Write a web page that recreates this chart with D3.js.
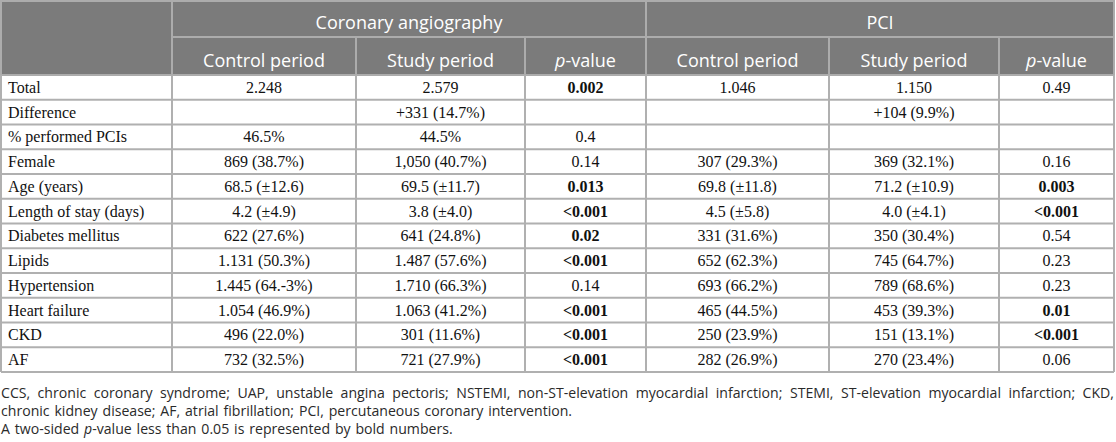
<!DOCTYPE html>
<html>
<head>
<meta charset="utf-8">
<script src="https://cdn.jsdelivr.net/npm/d3@7/dist/d3.min.js"></script>
<style>
  html, body { margin: 0; padding: 0; background: #fff; }
  #wrap { position: relative; width: 1116px; height: 442px; overflow: hidden; }
  svg { position: absolute; left: 0; top: 0; }
  #foot { position: absolute; left: 1px; top: 383.5px; width: 1113px;
          font-family: "Open Sans", "Noto Sans", sans-serif; font-size: 14.1px;
          word-spacing: 1.2px;
          line-height: 18px; color: #2a2a2a; text-align: justify; }
  #foot p { margin: 0; }
</style>
</head>
<body>
<div id="wrap">
  <svg id="chart" width="1116" height="380"></svg>
  <div id="foot"></div>
</div>
<script>
// ---- data ----
const groups = ["Coronary angiography", "PCI"];
const subHeaders = ["Control period", "Study period", "p-value"];
const categories = ["Total", "Difference", "% performed PCIs", "Female", "Age (years)",
  "Length of stay (days)", "Diabetes mellitus", "Lipids", "Hypertension",
  "Heart failure", "CKD", "AF"];
const caControl = ["2.248", "", "46.5%", "869 (38.7%)", "68.5 (±12.6)", "4.2 (±4.9)",
  "622 (27.6%)", "1.131 (50.3%)", "1.445 (64.-3%)", "1.054 (46.9%)", "496 (22.0%)", "732 (32.5%)"];
const caStudy = ["2.579", "+331 (14.7%)", "44.5%", "1,050 (40.7%)", "69.5 (±11.7)", "3.8 (±4.0)",
  "641 (24.8%)", "1.487 (57.6%)", "1.710 (66.3%)", "1.063 (41.2%)", "301 (11.6%)", "721 (27.9%)"];
const caP = ["0.002", "", "0.4", "0.14", "0.013", "<0.001", "0.02", "<0.001", "0.14",
  "<0.001", "<0.001", "<0.001"];
const pciControl = ["1.046", "", "", "307 (29.3%)", "69.8 (±11.8)", "4.5 (±5.8)",
  "331 (31.6%)", "652 (62.3%)", "693 (66.2%)", "465 (44.5%)", "250 (23.9%)", "282 (26.9%)"];
const pciStudy = ["1.150", "+104 (9.9%)", "", "369 (32.1%)", "71.2 (±10.9)", "4.0 (±4.1)",
  "350 (30.4%)", "745 (64.7%)", "789 (68.6%)", "453 (39.3%)", "151 (13.1%)", "270 (23.4%)"];
const pciP = ["0.49", "", "", "0.16", "0.003", "<0.001", "0.54", "0.23", "0.23",
  "0.01", "<0.001", "0.06"];
const alpha = 0.05;
const footnotes = [
  "CCS, chronic coronary syndrome; UAP, unstable angina pectoris; NSTEMI, non-ST-elevation myocardial infarction; STEMI, ST-elevation myocardial infarction; CKD, chronic kidney disease; AF, atrial fibrillation; PCI, percutaneous coronary intervention.",
  "A two-sided <i>p</i>-value less than 0.05 is represented by bold numbers."
];

// ---- layout ----
const colWidths = [171, 184, 169, 121, 183, 170, 115];
const left = 1;
const edges = [left, ...d3.cumsum(colWidths).map(v => v + left)];
const right = edges[edges.length - 1];
const h1 = 37, h2 = 75, tableBottom = 372;
const headerBg = "#7b7b7b", headerLine = "#acacac", gridLine = "#b0b0b0";
const serif = "'Liberation Serif', 'Times New Roman', serif";
const sans = "'Open Sans', 'Noto Sans', sans-serif";

const svg = d3.select("#chart");
const y = d3.scaleBand().domain(categories).range([h2, tableBottom]).padding(0);
const colIdx = d3.range(colWidths.length);
const xCenter = d3.scaleOrdinal().domain(colIdx).range(colIdx.map(i => (edges[i] + edges[i + 1]) / 2));

// header background
svg.append("rect").attr("x", left).attr("y", 0).attr("width", right - left).attr("height", h2)
  .attr("fill", headerBg);

// group header labels
const groupSpans = [[1, 4], [4, 7]];
svg.selectAll("text.grp").data(groups).join("text").attr("class", "grp")
  .attr("x", (d, i) => (edges[groupSpans[i][0]] + edges[groupSpans[i][1]]) / 2)
  .attr("y", 28.5)
  .attr("text-anchor", "middle").attr("fill", "#fff")
  .style("font-family", sans).style("font-size", "18px")
  .text(d => d);

// sub headers
const subs = [];
groups.forEach((g, gi) => subHeaders.forEach((s, si) => subs.push({ col: 1 + gi * 3 + si, text: s })));
const st = svg.selectAll("text.sub").data(subs).join("text").attr("class", "sub")
  .attr("x", d => xCenter(d.col)).attr("y", 67)
  .attr("text-anchor", "middle").attr("fill", "#fff")
  .style("font-family", sans).style("font-size", "18px");
st.each(function (d) {
  const t = d3.select(this);
  if (d.text.startsWith("p-")) {
    t.append("tspan").style("font-style", "italic").text("p");
    t.append("tspan").text(d.text.slice(1));
  } else t.text(d.text);
});

// header lines
const hl = svg.append("g").attr("stroke", headerLine).attr("stroke-width", 2);
hl.append("line").attr("x1", edges[1]).attr("x2", right).attr("y1", h1).attr("y2", h1);
[edges[1], edges[4]].forEach(x => hl.append("line").attr("x1", x).attr("x2", x).attr("y1", 0).attr("y2", h2));
[edges[2], edges[3], edges[5], edges[6]].forEach(x => hl.append("line").attr("x1", x).attr("x2", x).attr("y1", h1).attr("y2", h2));
hl.append("rect").attr("x", left).attr("y", 1).attr("width", right - left).attr("height", h2 - 1).attr("fill", "none");

// body rows
const rows = categories.map((c, i) => [c, caControl[i], caStudy[i], caP[i], pciControl[i], pciStudy[i], pciP[i]]);
const isP = col => col === 3 || col === 6;
const sig = v => { const n = parseFloat(String(v).replace("<", "")); return !isNaN(n) && n < alpha; };

const g = svg.append("g");
g.selectAll("g.row").data(rows).join("g").attr("class", "row")
  .each(function (r, ri) {
    const yc = y(categories[ri]) + y.bandwidth() / 2;
    d3.select(this).selectAll("text").data(r.map((v, ci) => ({ v, ci }))).join("text")
      .attr("x", d => d.ci === 0 ? edges[0] + 7 : xCenter(d.ci))
      .attr("y", yc + 5.5)
      .attr("text-anchor", d => d.ci === 0 ? "start" : "middle")
      .attr("fill", "#111")
      .style("font-family", serif).style("font-size", "16px")
      .style("font-weight", d => isP(d.ci) && sig(d.v) ? "bold" : "normal")
      .text(d => d.v);
  });

// grid lines
const gl = svg.append("g").attr("stroke", gridLine).attr("stroke-width", 2);
gl.selectAll("line.h").data(categories).join("line").attr("class", "h")
  .attr("x1", left).attr("x2", right)
  .attr("y1", d => y(d) + y.bandwidth()).attr("y2", d => y(d) + y.bandwidth());
gl.selectAll("line.v").data(edges).join("line").attr("class", "v")
  .attr("x1", d => d).attr("x2", d => d).attr("y1", h2).attr("y2", tableBottom);

// footnotes
d3.select("#foot").selectAll("p").data(footnotes).join("p").html(d => d);
</script>
</body>
</html>
